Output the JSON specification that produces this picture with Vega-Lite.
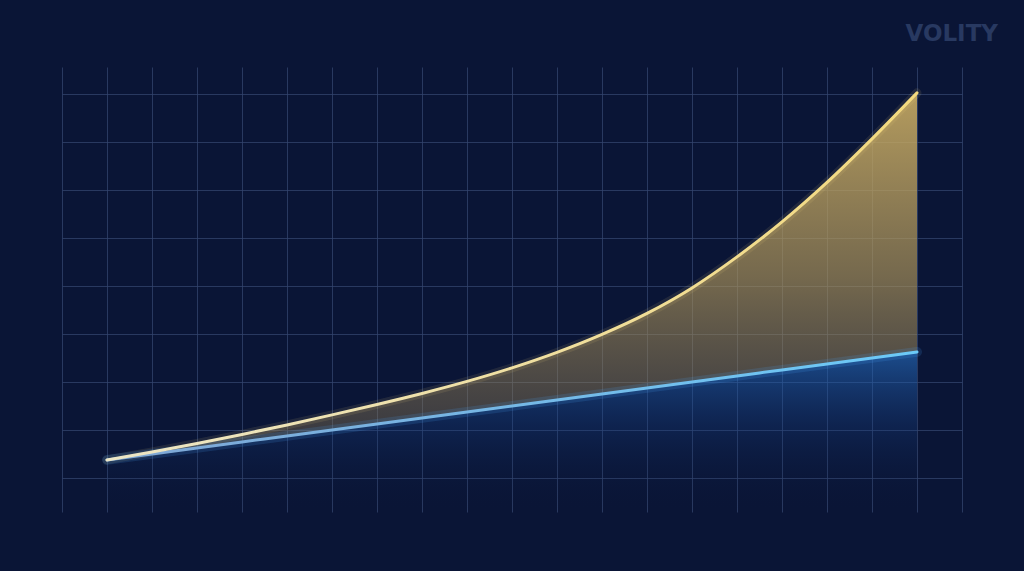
{
  "$schema": "https://vega.github.io/schema/vega-lite/v6.json",
  "width": 900,
  "height": 445,
  "autosize": "none",
  "padding": {"top": 67, "left": 62, "right": 62, "bottom": 59},
  "background": "#0a1536",
  "title": {
    "text": "VOLITY",
    "anchor": "end",
    "frame": "group",
    "offset": 21,
    "dx": 36,
    "font": "DejaVu Sans",
    "fontSize": 23,
    "fontWeight": "bold",
    "color": "#283961"
  },
  "data": {
    "values": [
      {"x": 1, "gold": 1.375, "blue": 1.375},
      {"x": 2, "gold": 1.542, "blue": 1.5},
      {"x": 3, "gold": 1.719, "blue": 1.625},
      {"x": 4, "gold": 1.906, "blue": 1.75},
      {"x": 5, "gold": 2.104, "blue": 1.875},
      {"x": 6, "gold": 2.313, "blue": 2.0},
      {"x": 7, "gold": 2.531, "blue": 2.125},
      {"x": 8, "gold": 2.76, "blue": 2.25},
      {"x": 9, "gold": 3.01, "blue": 2.375},
      {"x": 10, "gold": 3.292, "blue": 2.5},
      {"x": 11, "gold": 3.615, "blue": 2.625},
      {"x": 12, "gold": 3.99, "blue": 2.75},
      {"x": 13, "gold": 4.427, "blue": 2.875},
      {"x": 14, "gold": 4.958, "blue": 3.0},
      {"x": 15, "gold": 5.604, "blue": 3.125},
      {"x": 16, "gold": 6.333, "blue": 3.25},
      {"x": 17, "gold": 7.156, "blue": 3.375},
      {"x": 18, "gold": 8.063, "blue": 3.5},
      {"x": 19, "gold": 9.021, "blue": 3.625}
    ]
  },
  "encoding": {
    "x": {
      "field": "x",
      "type": "quantitative",
      "scale": {"domain": [0, 20], "nice": false, "zero": false},
      "axis": {"values": [0, 1, 2, 3, 4, 5, 6, 7, 8, 9, 10, 11, 12, 13, 14, 15, 16, 17, 18, 19, 20]}
    }
  },
  "layer": [
    {
      "mark": {
        "type": "area",
        "interpolate": "monotone",
        "fill": {
          "x1": 0, "y1": 0, "x2": 0, "y2": 1,
          "gradient": "linear",
          "stops": [
            {"offset": 0, "color": "rgba(40,115,200,0.6)"},
            {"offset": 0.45, "color": "rgba(25,70,140,0.3)"},
            {"offset": 1, "color": "rgba(10,21,54,0)"}
          ]
        }
      },
      "encoding": {
        "y": {
          "field": "blue",
          "type": "quantitative",
          "scale": {"domain": [0.29, 9.56], "nice": false, "zero": false},
          "axis": {"values": [1, 2, 3, 4, 5, 6, 7, 8, 9]}
        },
        "y2": {"datum": 0.29}
      }
    },
    {
      "mark": {
        "type": "area",
        "interpolate": "monotone",
        "fill": {
          "x1": 0, "y1": 0, "x2": 0, "y2": 1,
          "gradient": "linear",
          "stops": [
            {"offset": 0, "color": "rgba(205,175,100,0.88)"},
            {"offset": 0.5, "color": "rgba(175,150,90,0.65)"},
            {"offset": 1, "color": "rgba(125,110,80,0.35)"}
          ]
        }
      },
      "encoding": {
        "y": {"field": "gold", "type": "quantitative"},
        "y2": {"field": "blue"}
      }
    },
    {
      "mark": {"type": "line", "interpolate": "monotone", "strokeWidth": 9, "opacity": 0.1, "stroke": "#f5dc84", "strokeCap": "round"},
      "encoding": {"y": {"field": "gold", "type": "quantitative"}}
    },
    {
      "mark": {"type": "line", "interpolate": "monotone", "strokeWidth": 10, "opacity": 0.15, "stroke": "#4aa8ff", "strokeCap": "round"},
      "encoding": {"y": {"field": "blue", "type": "quantitative"}}
    },
    {
      "mark": {
        "type": "line",
        "interpolate": "monotone",
        "strokeWidth": 3,
        "strokeCap": "round",
        "stroke": {
          "x1": 0, "y1": 0, "x2": 1, "y2": 0,
          "gradient": "linear",
          "stops": [
            {"offset": 0, "color": "#7fa6d4"},
            {"offset": 1, "color": "#6ccaf8"}
          ]
        }
      },
      "encoding": {"y": {"field": "blue", "type": "quantitative"}}
    },
    {
      "mark": {
        "type": "line",
        "interpolate": "monotone",
        "strokeWidth": 3,
        "strokeCap": "round",
        "stroke": {
          "x1": 0, "y1": 0, "x2": 1, "y2": 0,
          "gradient": "linear",
          "stops": [
            {"offset": 0, "color": "#ece6c6"},
            {"offset": 1, "color": "#f3d97e"}
          ]
        }
      },
      "encoding": {"y": {"field": "gold", "type": "quantitative"}}
    }
  ],
  "config": {
    "view": {"stroke": null},
    "axis": {
      "title": null,
      "labels": false,
      "ticks": false,
      "domain": false,
      "grid": true,
      "gridColor": "#34466f",
      "gridWidth": 1,
      "gridOpacity": 0.75
    }
  }
}
